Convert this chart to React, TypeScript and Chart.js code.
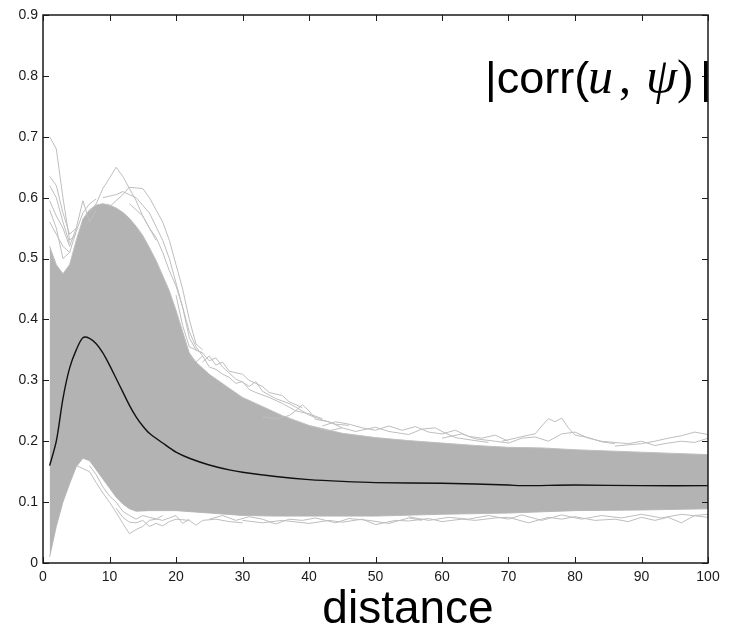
import React, { useEffect, useRef } from "react";
import { Chart, registerables } from "chart.js";

Chart.register(...registerables);

// ---- axis ticks ----
const xTickValues = [0, 10, 20, 30, 40, 50, 60, 70, 80, 90, 100];
const xTickLabels = ["0", "10", "20", "30", "40", "50", "60", "70", "80", "90", "100"];
const yTickValues = [0, 0.1, 0.2, 0.3, 0.4, 0.5, 0.6, 0.7, 0.8, 0.9];
const yTickLabels = ["0", "0.1", "0.2", "0.3", "0.4", "0.5", "0.6", "0.7", "0.8", "0.9"];

const xAxisTitle = "distance";

// ---- mean |corr| curve (black) ----
const meanDistance = [1, 2, 3, 4, 5, 6, 7, 8, 9, 10, 11, 12, 13, 14, 15, 16, 18, 20, 22, 25, 28, 30, 35, 40, 45, 50, 60, 70, 72, 80, 90, 100];
const meanCorr = [0.16, 0.2, 0.27, 0.32, 0.35, 0.37, 0.369, 0.36, 0.345, 0.325, 0.303, 0.281, 0.259, 0.24, 0.225, 0.213, 0.197, 0.182, 0.172, 0.161, 0.153, 0.149, 0.142, 0.137, 0.134, 0.132, 0.131, 0.128, 0.127, 0.128, 0.127, 0.127];

// ---- dense grey band of individual traces (upper / lower edge) ----
const bandTopDistance = [1, 2, 3, 4, 5, 6, 7, 8, 9, 10, 11, 12, 13, 14, 15, 16, 17, 18, 19, 20, 21, 22, 23, 25, 28, 30, 33, 36, 40, 45, 50, 55, 60, 65, 70, 75, 80, 85, 90, 95, 100];
const bandTopCorr = [0.52, 0.49, 0.475, 0.49, 0.53, 0.565, 0.58, 0.588, 0.59, 0.588, 0.583, 0.576, 0.566, 0.553, 0.538, 0.518, 0.497, 0.472, 0.447, 0.415, 0.38, 0.345, 0.33, 0.31, 0.287, 0.272, 0.257, 0.242, 0.226, 0.213, 0.206, 0.201, 0.197, 0.193, 0.19, 0.189, 0.186, 0.184, 0.182, 0.18, 0.178];
const bandBottomDistance = [1, 2, 3, 4, 5, 6, 7, 8, 9, 10, 11, 12, 13, 14, 16, 20, 25, 30, 35, 40, 50, 60, 70, 80, 90, 100];
const bandBottomCorr = [0.01, 0.06, 0.1, 0.13, 0.158, 0.172, 0.168, 0.153, 0.138, 0.123, 0.108, 0.097, 0.089, 0.085, 0.086, 0.086, 0.082, 0.078, 0.077, 0.077, 0.077, 0.08, 0.082, 0.086, 0.087, 0.089];

// ---- individual outlying traces ----
const traceA: [number, number][] = [[1, 0.7], [2, 0.68], [3, 0.6], [4, 0.53], [5, 0.54]];
const traceB: [number, number][] = [[1, 0.635], [2, 0.62], [3, 0.575], [4, 0.54], [5, 0.55]];
const traceC: [number, number][] = [[1, 0.62], [2, 0.6], [3, 0.56], [4, 0.525]];
const traceD: [number, number][] = [[1, 0.595], [2, 0.57], [3, 0.55], [4, 0.52], [5, 0.55], [6, 0.595], [7, 0.56], [8, 0.58]];
const traceE: [number, number][] = [[7, 0.575], [8, 0.59], [9, 0.615], [10, 0.632], [11, 0.65], [12, 0.635], [13, 0.615], [14, 0.595], [15, 0.57], [16, 0.55], [17, 0.53]];
const traceF: [number, number][] = [[10, 0.585], [11, 0.595], [12, 0.605], [13, 0.617], [14, 0.616], [15, 0.615], [16, 0.6], [17, 0.58], [18, 0.56], [19, 0.53], [20, 0.49], [21, 0.45], [22, 0.4], [23, 0.36], [24, 0.35]];
const traceG: [number, number][] = [[9, 0.6], [11, 0.605], [12, 0.61], [14, 0.6], [16, 0.575], [18, 0.53], [19, 0.5], [20, 0.46], [21, 0.42], [22, 0.37], [23, 0.35], [24, 0.345]];
const traceH: [number, number][] = [[20, 0.44], [21, 0.39], [22, 0.355], [23, 0.35], [24, 0.345], [25, 0.332], [26, 0.337], [27, 0.322], [28, 0.312], [29, 0.302], [30, 0.297], [31, 0.29], [32, 0.298], [33, 0.282], [35, 0.27], [37, 0.262], [38, 0.256], [40, 0.243], [42, 0.235], [44, 0.228], [46, 0.226]];
const traceI: [number, number][] = [[33, 0.24], [35, 0.237], [37, 0.242], [38, 0.25], [39, 0.26], [40, 0.25], [41, 0.236], [43, 0.232], [45, 0.222]];
const traceJ: [number, number][] = [[40, 0.225], [43, 0.217], [45, 0.222], [47, 0.216], [50, 0.223], [52, 0.216], [55, 0.211], [57, 0.22], [59, 0.222], [60, 0.216], [62, 0.206], [65, 0.201], [67, 0.198]];
const traceK: [number, number][] = [[69, 0.2], [71, 0.205], [73, 0.21], [74, 0.212], [75, 0.225], [76, 0.237], [77, 0.232], [78, 0.238], [79, 0.222], [80, 0.21], [82, 0.206], [84, 0.199], [86, 0.196]];
const traceL: [number, number][] = [[86, 0.192], [88, 0.194], [90, 0.196], [92, 0.2], [94, 0.205], [96, 0.209], [98, 0.215], [100, 0.211]];
const traceM: [number, number][] = [[5, 0.16], [6, 0.155], [7, 0.15], [8, 0.132], [9, 0.115], [10, 0.1], [11, 0.083], [12, 0.065], [13, 0.048], [14, 0.055], [15, 0.06], [16, 0.07], [17, 0.072], [18, 0.078]];
const traceN: [number, number][] = [[11, 0.09], [12, 0.075], [13, 0.067], [14, 0.066], [15, 0.07], [16, 0.06], [17, 0.065], [18, 0.061], [19, 0.068], [20, 0.072], [22, 0.07], [23, 0.062], [24, 0.07], [26, 0.072], [28, 0.068], [30, 0.066]];
const traceO: [number, number][] = [[30, 0.07], [33, 0.066], [36, 0.07], [40, 0.065], [43, 0.07], [45, 0.067], [48, 0.072], [50, 0.063], [53, 0.07], [55, 0.069], [58, 0.073], [60, 0.068], [63, 0.072], [65, 0.07], [68, 0.074], [70, 0.075], [73, 0.066], [76, 0.075], [78, 0.072], [80, 0.076], [83, 0.07], [86, 0.072], [88, 0.068], [90, 0.075], [92, 0.07], [94, 0.075], [96, 0.066], [98, 0.078], [100, 0.08]];
const traceP: [number, number][] = [[22, 0.34], [23, 0.33], [24, 0.34], [25, 0.322], [26, 0.318], [27, 0.31], [28, 0.305], [29, 0.295], [30, 0.298], [31, 0.285], [32, 0.28], [34, 0.272], [36, 0.262], [38, 0.25], [40, 0.245], [42, 0.237]];
const traceQ: [number, number][] = [[24, 0.33], [25, 0.34], [26, 0.325], [27, 0.33], [28, 0.315], [30, 0.31], [31, 0.3], [33, 0.29], [34, 0.28], [36, 0.275], [37, 0.265], [39, 0.255]];
const traceR: [number, number][] = [[42, 0.225], [44, 0.232], [46, 0.228], [48, 0.222], [50, 0.218], [52, 0.225], [54, 0.218], [56, 0.224], [58, 0.215], [60, 0.212], [62, 0.218], [64, 0.208], [66, 0.205], [68, 0.21], [70, 0.2]];
const traceS: [number, number][] = [[60, 0.205], [63, 0.212], [65, 0.204], [68, 0.2], [70, 0.197], [72, 0.205], [74, 0.207], [76, 0.2], [78, 0.212], [80, 0.215], [82, 0.205], [84, 0.2], [86, 0.198], [88, 0.196], [90, 0.2], [92, 0.193], [94, 0.197], [96, 0.2], [98, 0.198], [100, 0.205]];
const traceT: [number, number][] = [[25, 0.072], [27, 0.078], [29, 0.07], [31, 0.076], [33, 0.072], [35, 0.064], [37, 0.072], [39, 0.07], [41, 0.074], [44, 0.066], [46, 0.073], [49, 0.07], [52, 0.065], [55, 0.074], [57, 0.07]];
const traceU: [number, number][] = [[55, 0.076], [58, 0.07], [61, 0.075], [64, 0.072], [67, 0.078], [70, 0.072], [72, 0.079], [75, 0.07], [78, 0.079], [81, 0.072], [84, 0.078], [87, 0.074], [90, 0.08], [93, 0.074], [96, 0.08], [100, 0.075]];
const traceV: [number, number][] = [[1, 0.56], [2, 0.54], [3, 0.52], [4, 0.51], [5, 0.545], [6, 0.575], [7, 0.59], [8, 0.598]];
const traceW: [number, number][] = [[1, 0.58], [2, 0.55], [3, 0.5], [4, 0.51]];
const traceX: [number, number][] = [[13, 0.59], [14, 0.58], [15, 0.57], [16, 0.55], [17, 0.535], [18, 0.51], [19, 0.48], [20, 0.455], [21, 0.42], [22, 0.38], [23, 0.355], [24, 0.34]];
const traceY: [number, number][] = [[7, 0.16], [8, 0.145], [9, 0.125], [10, 0.11], [11, 0.1], [12, 0.085], [13, 0.078], [14, 0.072], [15, 0.078], [16, 0.075], [18, 0.07], [20, 0.078], [21, 0.065], [22, 0.072]];
const outlierTraces = [traceA, traceB, traceC, traceD, traceE, traceF, traceG, traceH, traceI, traceJ, traceK, traceL, traceM, traceN, traceO, traceP, traceQ, traceR, traceS, traceT, traceU, traceV, traceW, traceX, traceY];

const BAND = "rgb(179,179,179)";
const TRACE = "rgb(190,190,190)";
const INK = "#1a1a1a";

const pairs = (xs: number[], ys: number[]) => xs.map((x, i) => ({ x, y: ys[i] }));

const framePlugin = {
  id: "matlabFrame",
  afterDraw(chart: any) {
    const { ctx, chartArea: a, scales } = chart;
    const xs = scales.x;
    const ys = scales.y;
    ctx.save();
    ctx.strokeStyle = INK;
    ctx.lineWidth = 1.5;
    ctx.strokeRect(a.left, a.top, a.right - a.left, a.bottom - a.top);
    ctx.lineWidth = 1;
    ctx.beginPath();
    const L = 6;
    xTickValues.forEach((v) => {
      const px = Math.round(xs.getPixelForValue(v)) + 0.5;
      ctx.moveTo(px, a.bottom);
      ctx.lineTo(px, a.bottom - L);
      ctx.moveTo(px, a.top);
      ctx.lineTo(px, a.top + L);
    });
    yTickValues.forEach((v) => {
      const py = Math.round(ys.getPixelForValue(v)) + 0.5;
      ctx.moveTo(a.left, py);
      ctx.lineTo(a.left + L, py);
      ctx.moveTo(a.right, py);
      ctx.lineTo(a.right - L, py);
    });
    ctx.stroke();

    // x axis title
    ctx.fillStyle = "#000";
    ctx.font = '46px "Liberation Sans", Arial, sans-serif';
    ctx.textAlign = "center";
    ctx.textBaseline = "alphabetic";
    ctx.fillText(xAxisTitle, 408, 623);

    // in-plot label |corr(u, ψ)|
    const sans = '45px "Liberation Sans", Arial, sans-serif';
    const serif = '48px "Liberation Serif", "DejaVu Serif", serif';
    const serifIt = 'italic 50px "Liberation Serif", "DejaVu Serif", serif';
    const segs: [string, string, number][] = [
      ["|corr(", sans, 485],
      ["u", serifIt, 588],
      [",", serif, 619],
      ["ψ", serifIt, 646],
      [")", serif, 677],
      ["|", sans, 700],
    ];
    ctx.textAlign = "left";
    segs.forEach(([t, f, x]) => {
      ctx.font = f;
      ctx.fillText(t, x, 93);
    });
    ctx.restore();
  },
};

export default function App() {
  const ref = useRef<HTMLCanvasElement | null>(null);

  useEffect(() => {
    if (!ref.current) return;
    const traceSets = outlierTraces.map((t) => ({
      data: t.map(([x, y]) => ({ x, y })),
      borderColor: TRACE,
      borderWidth: 1,
      pointRadius: 0,
      fill: false,
      tension: 0,
      order: 1,
    }));
    const chart = new Chart(ref.current, {
      type: "line",
      data: {
        datasets: [
          {
            data: pairs(bandTopDistance, bandTopCorr),
            borderColor: TRACE,
            borderWidth: 1,
            backgroundColor: BAND,
            pointRadius: 0,
            fill: "+1",
            tension: 0,
            order: 2,
          },
          {
            data: pairs(bandBottomDistance, bandBottomCorr),
            borderColor: TRACE,
            borderWidth: 1,
            backgroundColor: BAND,
            pointRadius: 0,
            fill: false,
            tension: 0,
            order: 2,
          },
          ...traceSets,
          {
            data: pairs(meanDistance, meanCorr),
            borderColor: "#111",
            borderWidth: 1.4,
            pointRadius: 0,
            fill: false,
            tension: 0.3,
            order: 0,
          },
        ],
      },
      options: {
        animation: false,
        responsive: true,
        maintainAspectRatio: false,
        layout: { padding: { top: 15, right: 24, left: 0, bottom: 0 } },
        plugins: { legend: { display: false }, tooltip: { enabled: false }, title: { display: false } },
        scales: {
          x: {
            type: "linear",
            min: 0,
            max: 100,
            grid: { display: false, drawTicks: false },
            border: { display: false },
            afterBuildTicks: (s: any) => {
              s.ticks = xTickValues.map((v) => ({ value: v }));
            },
            afterFit: (s: any) => {
              s.height = 69;
            },
            ticks: {
              padding: 6,
              maxRotation: 0,
              color: INK,
              font: { family: '"Liberation Sans", Arial, sans-serif', size: 14 },
              callback: (v: any) => {
                const i = xTickValues.indexOf(Number(v));
                return i >= 0 ? xTickLabels[i] : "";
              },
            },
          },
          y: {
            type: "linear",
            min: 0,
            max: 0.9,
            grid: { display: false, drawTicks: false },
            border: { display: false },
            afterBuildTicks: (s: any) => {
              s.ticks = yTickValues.map((v) => ({ value: v }));
            },
            afterFit: (s: any) => {
              s.width = 43;
            },
            ticks: {
              padding: 5,
              color: INK,
              font: { family: '"Liberation Sans", Arial, sans-serif', size: 14 },
              callback: (v: any) => {
                const i = yTickValues.findIndex((t) => Math.abs(t - Number(v)) < 1e-9);
                return i >= 0 ? yTickLabels[i] : "";
              },
            },
          },
        },
      },
      plugins: [framePlugin],
    });
    return () => chart.destroy();
  }, []);

  return (
    <div style={{ position: "fixed", left: 0, top: 0, width: 732, height: 632, background: "#fff" }}>
      <canvas ref={ref} />
    </div>
  );
}
